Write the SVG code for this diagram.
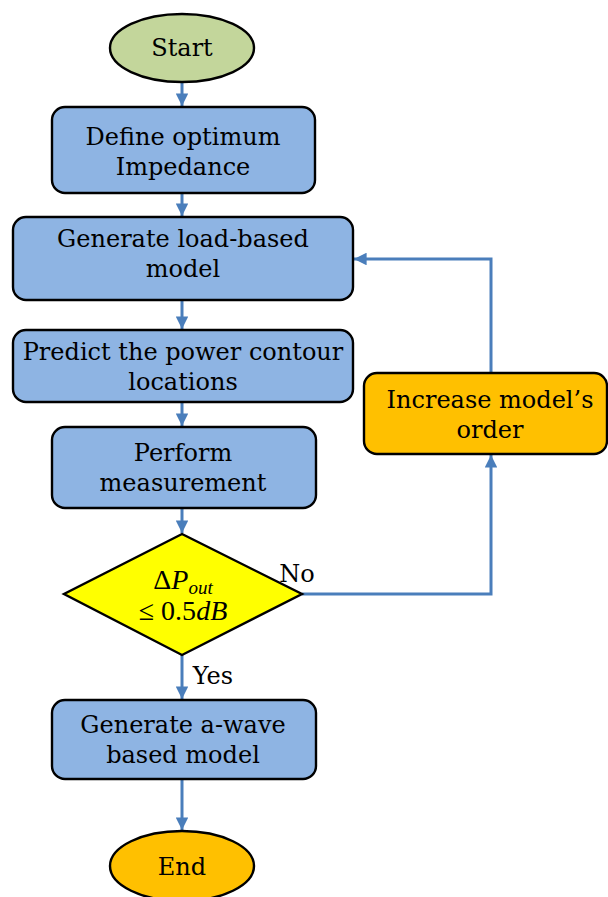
<svg xmlns="http://www.w3.org/2000/svg" width="608" height="897" viewBox="0 0 608 897">
  <style>
    .box { fill: #8eb4e3; stroke: #000; stroke-width: 2.4; }
    .term { stroke: #000; stroke-width: 2.4; }
    .lbl { font-family: "DejaVu Serif", "Liberation Serif", serif; font-size: 24px; fill: #000; text-anchor: middle; }
    .math { font-family: "Liberation Serif", "DejaVu Serif", serif; font-size: 28px; fill: #000; text-anchor: middle; }
    .edge { fill: none; stroke: #4a7ebb; stroke-width: 3; }
  </style>
  <defs>
    <marker id="arrow" viewBox="0 0 10 10" refX="10" refY="5" markerWidth="4.2" markerHeight="4.2" orient="auto" markerUnits="strokeWidth">
      <path d="M0,0 L10,5 L0,10 z" fill="#4a7ebb"/>
    </marker>
  </defs>

  <g id="connectors">
    <path class="edge" d="M182,82 V106" marker-end="url(#arrow)"/>
    <path class="edge" d="M182,193 V216" marker-end="url(#arrow)"/>
    <path class="edge" d="M182,300 V329" marker-end="url(#arrow)"/>
    <path class="edge" d="M182,402 V426" marker-end="url(#arrow)"/>
    <path class="edge" d="M182,508 V533" marker-end="url(#arrow)"/>
    <path class="edge" d="M182,655 V699" marker-end="url(#arrow)"/>
    <path class="edge" d="M182,779 V830" marker-end="url(#arrow)"/>
    <path class="edge" d="M302,594 H491 V455" marker-end="url(#arrow)"/>
    <path class="edge" d="M491,373 V259 H354" marker-end="url(#arrow)"/>
    <text class="lbl" x="297" y="582">No</text>
    <text class="lbl" x="213" y="684">Yes</text>
  </g>

  <g id="start">
    <ellipse class="term" cx="182" cy="48" rx="72" ry="34" fill="#c3d69b"/>
    <text class="lbl" x="182" y="56">Start</text>
  </g>

  <g id="define-impedance">
    <rect class="box" x="52" y="107" width="263" height="86" rx="13"/>
    <text class="lbl" x="183" y="145">Define optimum</text>
    <text class="lbl" x="183" y="175">Impedance</text>
  </g>

  <g id="load-model">
    <rect class="box" x="13" y="217" width="340" height="83" rx="13"/>
    <text class="lbl" x="183" y="247">Generate load-based</text>
    <text class="lbl" x="183" y="277">model</text>
  </g>

  <g id="predict-contour">
    <rect class="box" x="13" y="330" width="340" height="72" rx="13"/>
    <text class="lbl" x="183" y="360">Predict the power contour</text>
    <text class="lbl" x="183" y="390">locations</text>
  </g>

  <g id="measurement">
    <rect class="box" x="52" y="427" width="264" height="81" rx="13"/>
    <text class="lbl" x="183" y="461">Perform</text>
    <text class="lbl" x="183" y="491">measurement</text>
  </g>

  <g id="decision">
    <polygon class="term" points="182,534 302,594 182,655 64,594" fill="#ffff00"/>
    <text class="math" x="183" y="589">Δ<tspan font-style="italic">P</tspan><tspan font-style="italic" font-size="19" dy="5">out</tspan></text>
    <text class="math" x="183" y="620">≤ 0.5<tspan font-style="italic">dB</tspan></text>
  </g>

  <g id="increase-order">
    <rect class="term" x="364" y="373" width="243" height="81" rx="13" fill="#ffc000"/>
    <text class="lbl" x="490" y="408">Increase model’s</text>
    <text class="lbl" x="490" y="438">order</text>
  </g>

  <g id="awave-model">
    <rect class="box" x="52" y="700" width="264" height="79" rx="13"/>
    <text class="lbl" x="183" y="733">Generate a-wave</text>
    <text class="lbl" x="183" y="763">based model</text>
  </g>

  <g id="end">
    <ellipse class="term" cx="182" cy="866" rx="72" ry="35" fill="#ffc000"/>
    <text class="lbl" x="182" y="875">End</text>
  </g>
</svg>
